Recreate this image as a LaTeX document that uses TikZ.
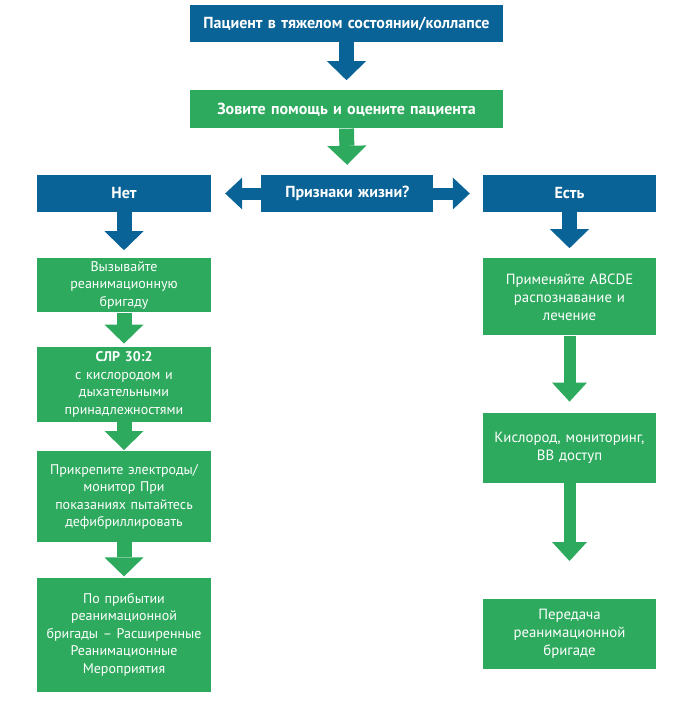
\documentclass[tikz,border=0pt]{standalone}
\usepackage{fontspec}
\setmainfont{PT Sans}
\usetikzlibrary{arrows.meta,positioning}

\definecolor{rcblue}{RGB}{10,99,150}
\definecolor{rcgreen}{RGB}{46,170,94}

\tikzset{
  stage/.style={text=white,align=center,inner xsep=0pt,inner ysep=0pt,
    font=\fontsize{14}{17.5}\selectfont},
  bold/.style={font=\fontsize{16}{19}\selectfont\bfseries},
  roomy/.style={font=\fontsize{14.8}{18}\selectfont},
  bluestage/.style={stage,fill=rcblue},
  greenstage/.style={stage,fill=rcgreen},
  flow/.style={line width=15pt,-{Triangle[width=39pt,length=19pt,line width=0pt]}},
  slim flow/.style={line width=12pt,-{Triangle[width=35pt,length=19pt,line width=0pt]}},
}

\begin{document}
\begin{tikzpicture}[x=1pt,y=1pt]
  \useasboundingbox (0,0) rectangle (694,-706);

  % top of the chart
  \node [bluestage,bold,text width=313pt,minimum height=37pt] (patient) at (346.5,-23.5)
    {Пациент в тяжелом состоянии/коллапсе};
  \node [greenstage,bold,text width=313pt,minimum height=38pt,below=48pt of patient] (help)
    {Зовите помощь и оцените пациента};
  \draw [rcblue,flow,shorten >=10pt] (patient.south) -- (help.north);

  % signs of life
  \node [bluestage,bold,text width=174pt,minimum height=37pt] (no) at (124,-193.5) {Нет};
  \node [bluestage,bold,text width=173pt,minimum height=37pt] (yes) at (569.5,-193.5) {Есть};
  \draw [rcblue,line width=12pt,
    {Triangle[width=32pt,length=17pt,line width=0pt]}-{Triangle[width=32pt,length=17pt,line width=0pt]},
    shorten <=14pt,shorten >=13pt] (no.east) -- (yes.west);
  \node [bluestage,bold,text width=172pt,minimum height=37pt,right=50pt of no] (signs)
    {Признаки жизни?};
  \draw [rcgreen,flow,shorten >=10pt] (help.south) -- (signs.north);

  % no signs of life
  \node [greenstage,text width=174pt,minimum height=54pt,below=46pt of no] (call)
    {Вызывайте\\реанимационную\\бригаду};
  \node [greenstage,text width=174pt,minimum height=75pt,below=34pt of call] (cpr)
    {\textbf{СЛР 30:2}\\с кислородом и\\дыхательными\\принадлежностями};
  \node [greenstage,text width=174pt,minimum height=91pt,below=29pt of cpr] (pads)
    {Прикрепите электроды/\\монитор При\\показаниях пытайтесь\\дефибриллировать};
  \node [greenstage,text width=174pt,minimum height=114pt,below=35pt of pads] (als)
    {По прибытии\\реанимационной\\бригады – Расширенные\\Реанимационные\\Мероприятия};
  \draw [rcblue,flow,shorten >=8pt] (no.south) -- (call.north);
  \draw [rcgreen,flow,shorten >=3pt] (call.south) -- (cpr.north);
  \draw [rcgreen,flow,shorten >=1pt] (cpr.south) -- (pads.north);
  \draw [rcgreen,flow,shorten >=1pt] (pads.south) -- (als.north);

  % signs of life present
  \node [greenstage,roomy,text width=173pt,minimum height=77pt,below=46pt of yes] (abcde)
    {Применяйте ABCDE\\распознавание и\\лечение};
  \node [greenstage,roomy,text width=173pt,minimum height=70pt,below=77pt of abcde] (oxygen)
    {Кислород, мониторинг,\\ВВ доступ};
  \node [greenstage,roomy,text width=173pt,minimum height=70pt,below=116pt of oxygen] (handover)
    {Передача\\реанимационной\\бригаде};
  \draw [rcblue,flow,shorten >=10pt] (yes.south) -- (abcde.north);
  \draw [rcgreen,slim flow,shorten >=11pt] (abcde.south) -- (oxygen.north);
  \draw [rcgreen,slim flow,shorten >=38pt] (oxygen.south) -- (handover.north);
\end{tikzpicture}
\end{document}
